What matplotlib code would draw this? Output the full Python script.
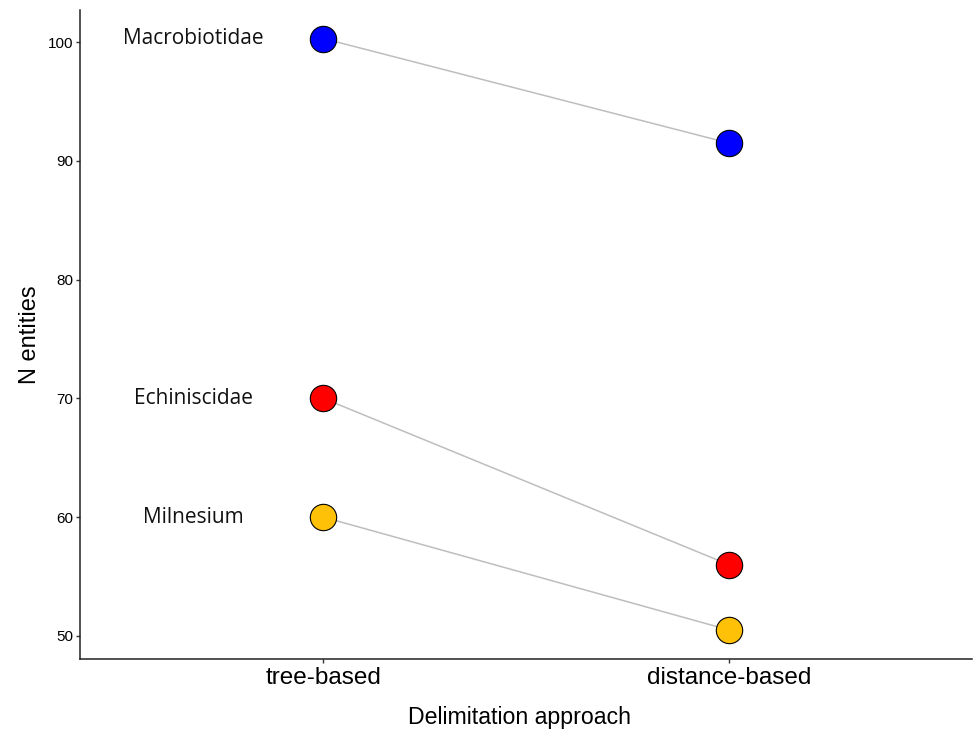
import matplotlib
matplotlib.use('Agg')
import matplotlib.pyplot as plt

# data
approaches = ['tree-based', 'distance-based']
groups = ['Macrobiotidae', 'Echiniscidae', 'Milnesium']
tree_vals = [100.3, 70, 60]
dist_vals = [91.5, 56, 50.5]
colors = ['#0000FF', '#FF0000', '#FFC107']

fig = plt.figure(figsize=(9.74, 7.29), dpi=100)
ax = fig.add_axes([80/974, 70/729, 892/974, 649/729])

xs = [1, 2]
for g, t, d, c in zip(groups, tree_vals, dist_vals, colors):
    ax.plot(xs, [t, d], color='#BEBEBE', lw=1.1, zorder=1)
    ax.scatter(xs, [t, d], s=360, color=c, edgecolor='black', linewidth=0.8, zorder=3)
    ax.text(0.68, t, g, ha='center', va='center', fontsize=15,
            family=['Open Sans', 'DejaVu Sans'], color='#111111')

ax.set_xlim(0.4, 2.6)
ax.set_ylim(48.05, 102.7)
ax.set_xticks(xs)
ax.set_xticklabels(approaches, fontsize=17.5, family='Liberation Sans')
ax.set_yticks([50, 60, 70, 80, 90, 100])
ax.set_yticklabels(['50', '60', '70', '80', '90', '100'], fontsize=11, family='Liberation Sans')
ax.set_xlabel('Delimitation approach', fontsize=16.7, family='Liberation Sans', labelpad=12)
ax.xaxis.label.set_x(0.493)
ax.set_ylabel('N entities', fontsize=17, family='Liberation Sans', labelpad=5)

for s in ['top', 'right']:
    ax.spines[s].set_visible(False)
for s in ['left', 'bottom']:
    ax.spines[s].set_linewidth(1.1)
    ax.spines[s].set_color('#222222')
ax.tick_params(length=3, width=1, color='#333333', pad=2)
ax.tick_params(axis='x', pad=3)

fig.savefig('out.png', dpi=100)
